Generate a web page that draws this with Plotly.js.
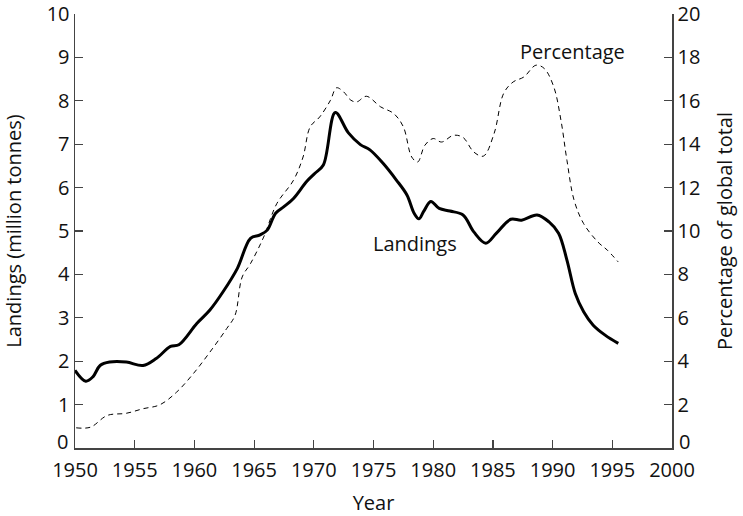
<!DOCTYPE html>
<html>
<head>
<meta charset="utf-8">
<script src="https://cdn.plot.ly/plotly-3.0.1.min.js"></script>
<style>html,body{margin:0;padding:0;background:#fff}#chart{width:743px;height:516px}</style>
</head>
<body>
<div id="chart"></div>
<script>
const landingYears = [1950, 1950.9, 1951.5, 1952.1, 1952.9, 1954.3, 1955.7, 1956.8, 1958.0, 1958.7, 1960.2, 1961.3, 1962.4, 1963.6, 1964.7, 1965.5, 1966.1, 1966.8, 1967.5, 1968.3, 1969.4, 1970.1, 1970.8, 1971.8, 1972.9, 1973.9, 1974.7, 1975.8, 1976.9, 1977.8, 1978.4, 1978.8, 1979.2, 1979.8, 1980.5, 1981.4, 1982.5, 1983.4, 1984.4, 1985.3, 1986.5, 1987.4, 1988.7, 1989.7, 1990.5, 1991.2, 1991.9, 1992.6, 1993.4, 1994.4, 1995.5];
const landings = [1.79, 1.54, 1.64, 1.9, 1.98, 1.98, 1.9, 2.06, 2.34, 2.38, 2.87, 3.18, 3.6, 4.14, 4.83, 4.91, 5.02, 5.41, 5.56, 5.75, 6.14, 6.33, 6.52, 7.73, 7.26, 6.99, 6.87, 6.56, 6.18, 5.83, 5.41, 5.28, 5.45, 5.68, 5.52, 5.46, 5.37, 4.98, 4.72, 4.95, 5.27, 5.25, 5.37, 5.21, 4.95, 4.33, 3.56, 3.14, 2.83, 2.6, 2.41];

const pctYears = [1950.1, 1951.3, 1952.7, 1954.3, 1955.7, 1957.1, 1958.5, 1959.9, 1961.3, 1962.7, 1963.4, 1964.0, 1964.7, 1965.8, 1966.9, 1968.3, 1969.1, 1969.7, 1970.5, 1971.4, 1971.9, 1972.5, 1973.1, 1973.6, 1974.4, 1975.6, 1976.7, 1977.5, 1978.2, 1978.7, 1979.3, 1980.0, 1980.7, 1981.7, 1982.5, 1983.4, 1984.2, 1985.1, 1985.9, 1986.7, 1987.6, 1988.6, 1989.3, 1990.1, 1990.7, 1991.2, 1991.8, 1992.6, 1993.8, 1994.6, 1995.5];
const percentage = [0.93, 0.96, 1.5, 1.6, 1.81, 1.99, 2.57, 3.42, 4.42, 5.5, 6.11, 7.88, 8.5, 9.72, 11.26, 12.34, 13.41, 14.8, 15.26, 16.03, 16.6, 16.41, 16.03, 15.95, 16.21, 15.72, 15.41, 14.8, 13.41, 13.18, 13.95, 14.26, 14.1, 14.41, 14.31, 13.64, 13.45, 14.49, 16.34, 16.87, 17.1, 17.64, 17.49, 16.64, 15.1, 13.26, 11.42, 10.34, 9.49, 9.11, 8.57];

const xTicks = [1950, 1955, 1960, 1965, 1970, 1975, 1980, 1985, 1990, 1995, 2000];
const leftTicks = [0, 1, 2, 3, 4, 5, 6, 7, 8, 9, 10];
const rightTicks = [0, 2, 4, 6, 8, 10, 12, 14, 16, 18, 20];

const FONT = 'Open Sans, Noto Sans, sans-serif';
const FS = 20;
const txt = {family: FONT, size: FS, color: '#111'};
const axisCommon = {
  showgrid: false, zeroline: false, showline: true, linecolor: '#444', linewidth: 1.5,
  ticks: 'inside', ticklen: 8, tickcolor: '#444', tickwidth: 1.2,
  tickfont: txt
};
// the zero labels sit slightly above the corner, as in the reference
const tickText = v => (v === 0 ? '' : String(v));

const traces = [
  {x: landingYears, y: landings, type: 'scatter', mode: 'lines', yaxis: 'y',
   line: {color: '#000', width: 3, shape: 'spline', smoothing: 1}, hoverinfo: 'skip'},
  {x: pctYears, y: percentage, type: 'scatter', mode: 'lines', yaxis: 'y2',
   line: {color: '#000', width: 1, dash: '5px,4px', shape: 'spline', smoothing: 1}, hoverinfo: 'skip'}
];

const layout = {
  width: 743, height: 516,
  margin: {l: 75, r: 71, t: 14, b: 68},
  paper_bgcolor: '#fff', plot_bgcolor: '#fff',
  showlegend: false,
  font: txt,
  xaxis: Object.assign({}, axisCommon, {
    range: [1950, 2000], tickvals: xTicks, ticktext: xTicks.map(String),
    ticklabelstandoff: 3,
    title: {text: 'Year', font: txt, standoff: 17}
  }),
  yaxis: Object.assign({}, axisCommon, {
    range: [0, 10], tickvals: leftTicks, ticktext: leftTicks.map(tickText),
    title: {text: 'Landings (million tonnes)', font: txt, standoff: 19}
  }),
  yaxis2: Object.assign({}, axisCommon, {
    range: [0, 20], tickvals: rightTicks, ticktext: rightTicks.map(tickText),
    overlaying: 'y', side: 'right',
    title: {text: 'Percentage of global total', font: txt, standoff: 18}
  }),
  annotations: [
    {x: 1991.7, y: 18.25, xref: 'x', yref: 'y2', text: 'Percentage', showarrow: false, font: txt},
    {x: 1978.5, y: 4.72, xref: 'x', yref: 'y', text: 'Landings', showarrow: false, font: txt},
    {x: 0, y: leftTicks[0], xref: 'paper', yref: 'y', text: '0', showarrow: false, font: txt,
     xanchor: 'right', xshift: -5, yshift: 7},
    {x: 1, y: rightTicks[0], xref: 'paper', yref: 'y2', text: '0', showarrow: false, font: txt,
     xanchor: 'left', xshift: 5, yshift: 7}
  ]
};

Plotly.newPlot('chart', traces, layout, {displayModeBar: false, staticPlot: true});
</script>
</body>
</html>
